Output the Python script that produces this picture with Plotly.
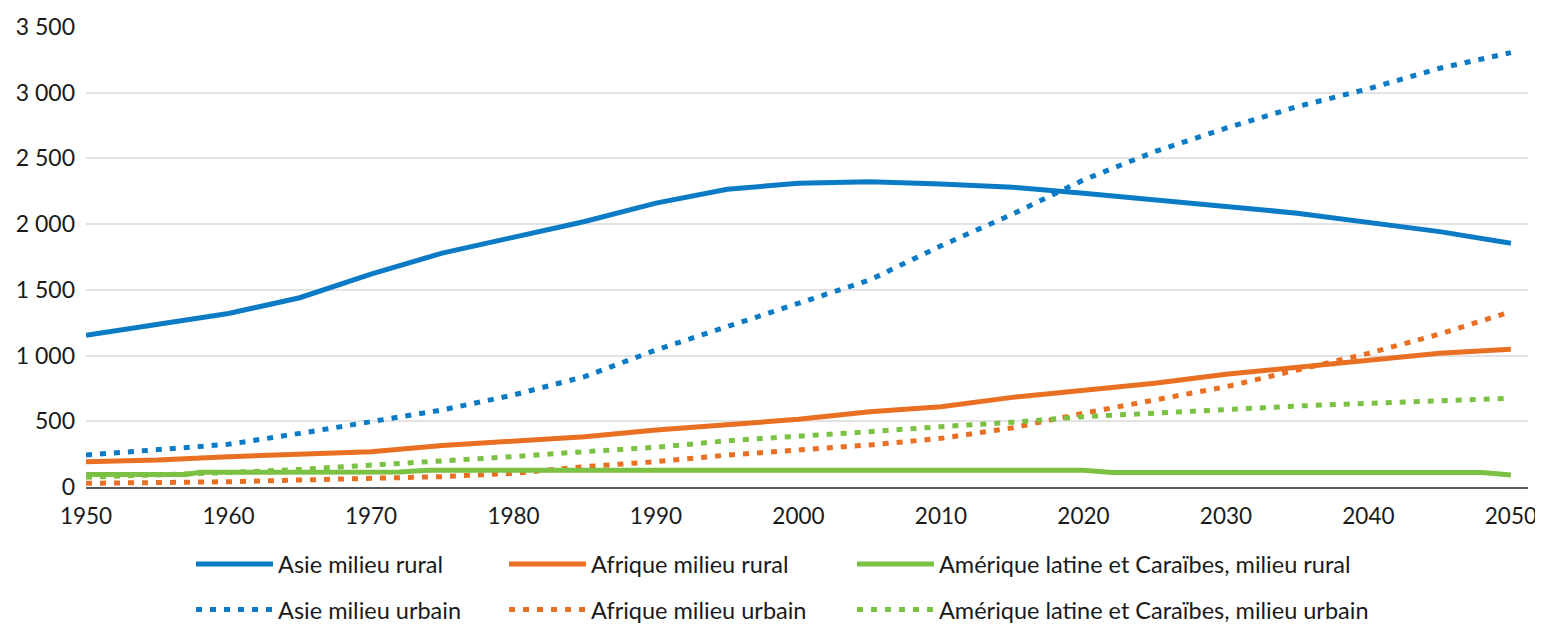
import plotly.graph_objects as go

years = [1950, 1955, 1960, 1965, 1970, 1975, 1980, 1985, 1990, 1995, 2000,
         2005, 2010, 2015, 2020, 2025, 2030, 2035, 2040, 2045, 2050]

asia_rural = [1155, 1235, 1320, 1440, 1620, 1780, 1900, 2020, 2160, 2265, 2311,
              2323, 2305, 2281, 2235, 2189, 2135, 2083, 2012, 1943, 1855]
asia_urban = [243, 280, 325, 408, 497, 586, 700, 840, 1043, 1220, 1393,
              1575, 1835, 2075, 2336, 2552, 2730, 2894, 3030, 3186, 3305]
africa_rural = [193, 205, 231, 251, 269, 315, 345, 383, 434, 472, 515,
                573, 611, 682, 733, 789, 858, 908, 967, 1017, 1048]
africa_urban = [28, 33, 40, 53, 66, 79, 104, 155, 193, 243, 282,
                320, 370, 450, 561, 662, 763, 890, 1017, 1164, 1334]
latam_urban = [75, 90, 110, 134, 167, 193, 231, 269, 302, 352, 383,
               421, 459, 492, 535, 565, 591, 616, 637, 657, 675]
latam_rural_years = [1950, 1957, 1958, 1972, 1974, 2020, 2022, 2048, 2050]
latam_rural = [95, 95, 112, 115, 127, 127, 110, 110, 92]

BLUE = "#0A7BC4"
ORANGE = "#E96F23"
GREEN = "#7BC143"
DOT = "6px,8px"

series = [
    ("Asie milieu rural", years, asia_rural, BLUE, "solid", "legend"),
    ("Asie milieu urbain", years, asia_urban, BLUE, DOT, "legend"),
    ("Afrique milieu rural", years, africa_rural, ORANGE, "solid", "legend2"),
    ("Afrique milieu urbain", years, africa_urban, ORANGE, DOT, "legend2"),
    ("Amérique latine et Caraïbes, milieu rural", latam_rural_years, latam_rural, GREEN, "solid", "legend3"),
    ("Amérique latine et Caraïbes, milieu urbain", years, latam_urban, GREEN, DOT, "legend3"),
]

fig = go.Figure()
for name, xs, vals, color, dash, leg in series:
    fig.add_trace(go.Scatter(
        x=xs, y=vals, name=name, mode="lines", legend=leg, legendgroup=name,
        line=dict(color=color, width=5, dash=dash),
    ))

FONT = "Lato, Open Sans, sans-serif"
TXT = "#1a1a1a"


def leg(x):
    return dict(
        orientation="v", x=x, xanchor="left", y=-0.12, yanchor="top",
        font=dict(size=23.5, family=FONT, color=TXT),
        tracegroupgap=12, itemwidth=77, bgcolor="rgba(0,0,0,0)",
    )


# the page body has an 8px default margin: the figure is sized to fit the window
fig.update_layout(
    width=1535, height=618,
    paper_bgcolor="white", plot_bgcolor="white",
    margin=dict(l=78, r=15, t=19, b=139, autoexpand=False),
    font=dict(family=FONT, size=23, color=TXT),
    separators=", ",
    showlegend=True,
    legend=leg(0.0728),
    legend2=leg(0.2899),
    legend3=leg(0.5312),
    xaxis=dict(
        range=[1950, 2051.2], tickvals=list(range(1950, 2051, 10)),
        showgrid=False, showline=True, linecolor="#595959", linewidth=1.5,
        ticks="", zeroline=False, tickfont=dict(size=22.5),
        ticklabelstandoff=8, automargin=False,
    ),
    yaxis=dict(
        range=[0, 3500], tickvals=list(range(0, 3501, 500)),
        separatethousands=True, tickformat=",d",
        showgrid=True, gridcolor="#E3E3E3", gridwidth=1.5,
        zeroline=False, showline=False, ticks="",
        tickfont=dict(size=23), ticklabelstandoff=10, automargin=False,
    ),
)

fig.write_html("out.html")
